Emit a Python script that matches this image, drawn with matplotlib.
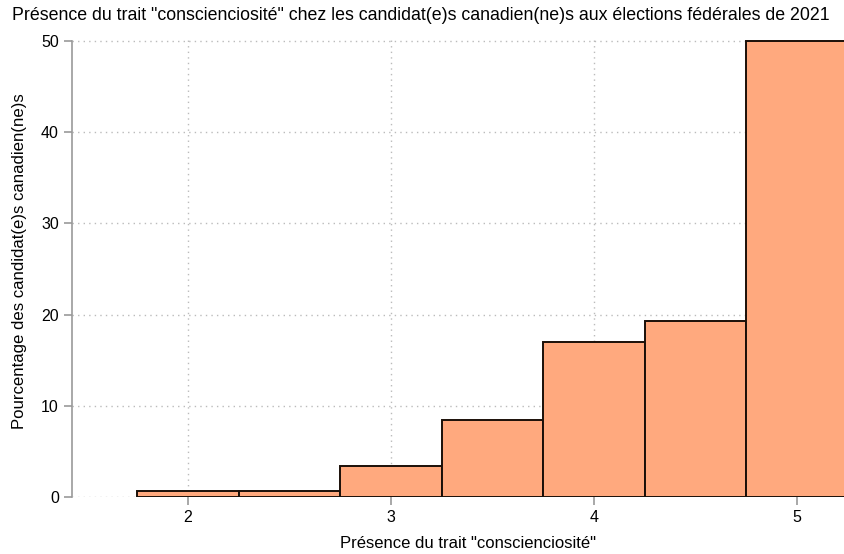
import matplotlib.pyplot as plt

plt.rcParams['font.family'] = ['Liberation Sans', 'DejaVu Sans']

# histogram bins (centres) and percentages
bins = [2.0, 2.5, 3.0, 3.5, 4.0, 4.5, 5.0]
pct = [0.65, 0.65, 3.35, 8.45, 17.0, 19.3, 50.0]
xticks = [2, 3, 4, 5]
yticks = [0, 10, 20, 30, 40, 50]

fig = plt.figure(figsize=(8.44, 5.54), dpi=100)
ax = fig.add_axes([72 / 844, 57 / 554, 1 - 72 / 844, 457.8 / 554])

ax.bar(bins, pct, width=0.5, color="#ffa97e", edgecolor="#1a0f08", linewidth=1.4, zorder=3)

ax.set_xlim(1.4286, 5.2315)
ax.set_ylim(0, 50.2)
ax.set_xticks(xticks)
ax.set_yticks(yticks)
ax.tick_params(labelsize=11.5, color="#999999", length=6, width=1.2)
ax.grid(True, linestyle=(0, (1, 3)), color="#bbbbbb", linewidth=1, zorder=0)

for s in ["top", "right", "bottom"]:
    ax.spines[s].set_visible(False)
ax.spines["left"].set_color("#999999")
ax.spines["left"].set_linewidth(1.2)
ax.spines["left"].set_bounds(0, 50)

ax.set_xlabel('Présence du trait "conscienciosité"', fontsize=12, labelpad=7)
ax.xaxis.set_label_coords(0.513, -0.085)
ax.set_ylabel("Pourcentage des candidat(e)s canadien(ne)s", fontsize=12.1)
ax.yaxis.set_label_coords(-0.058, 0.5155)
fig.text(12 / 844, 1 - 15 / 554, 'Présence du trait "conscienciosité" chez les candidat(e)s canadien(ne)s aux élections fédérales de 2021',
         fontsize=12.8, va="center", ha="left")

fig.savefig("out.png", dpi=100)
